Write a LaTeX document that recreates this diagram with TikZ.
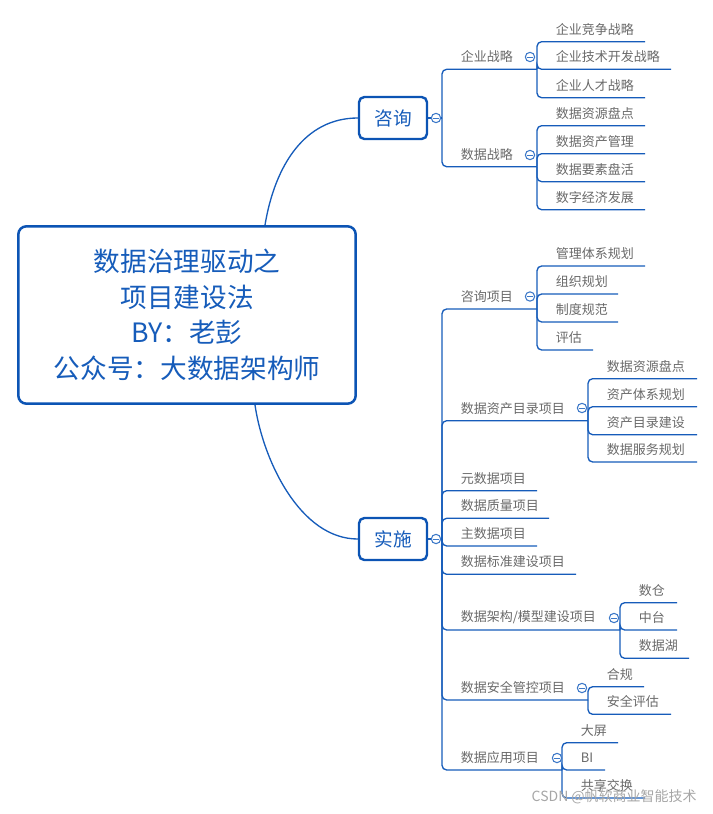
\documentclass[tikz,border=0pt]{standalone}
\usepackage{fontspec}
\newfontfamily\cjk{Noto Sans CJK SC}
\definecolor{lineblue}{RGB}{22,92,186}
\definecolor{boxblue}{RGB}{12,84,180}
\definecolor{textblue}{RGB}{22,92,186}
\definecolor{foldblue}{RGB}{60,120,200}
\definecolor{leafgray}{RGB}{105,105,105}
\newcommand\kid[6]{%
  \node[leaf] (#1) at ({#2+18.5},{#4-12.5}) {#6};
  \draw[conn] (#2,#3) |- (#5,#4);}
\begin{document}
\begin{tikzpicture}[x=0.75pt,y=-0.75pt,
  conn/.style={draw=lineblue,line width=1pt,rounded corners=3.5pt},
  leaf/.style={font=\cjk\fontsize{9.75}{12}\selectfont,text=leafgray,inner sep=0pt,anchor=west},
  topic/.style={draw=boxblue,line width=1.8pt,rounded corners=4pt,fill=white,text=textblue,
    font=\cjk\fontsize{14}{16}\selectfont,minimum width=51pt,minimum height=31.5pt,inner sep=0pt},
  rootbox/.style={draw=boxblue,line width=1.9pt,rounded corners=6pt,fill=white,text=textblue,
    font=\cjk\fontsize{20}{26.6}\selectfont,align=center,minimum width=253pt,minimum height=133pt,inner sep=0pt},
  fold/.style={circle,draw=foldblue,fill=white,line width=0.8pt,minimum size=7pt,inner sep=0pt,
    path picture={\draw[foldblue,line width=0.7pt] ([xshift=-2pt]path picture bounding box.center)--([xshift=2pt]path picture bounding box.center);}}
]
\useasboundingbox (0,0) rectangle (713,814);

% main topics
\node[rootbox] (root) at (187,315) {数据治理驱动之\\项目建设法\\BY：老彭\\公众号：大数据架构师};
\node[topic] (zx) at (393,118) {咨询};
\node[topic] (ss) at (393,539) {实施};
\coordinate (rt) at (265,225);
\coordinate (rb) at (255,405);
\draw[lineblue,line width=1pt] (rt) .. controls (275,165) and (305,118) .. (zx.west);
\draw[lineblue,line width=1pt] (rb) .. controls (263,460) and (300,539) .. (ss.west);

% fold markers of main topics
\node[fold] (fzx) at (436,118) {};
\node[fold] (fss) at (436,539) {};
\draw[conn] (zx.east) -- (fzx.west);
\draw[conn] (ss.east) -- (fss.west);
\draw[conn] (fzx.east) -- (442,118);
\draw[conn] (fss.east) -- (442,539);

% ---- 咨询 ----
\kid{a1}{442}{118}{69.3}{537}{企业战略}
\kid{a11}{537}{69.3}{41.7}{645}{企业竞争战略}
\kid{a12}{537}{69.3}{69.3}{671}{企业技术开发战略}
\kid{a13}{537}{69.3}{97.7}{645}{企业人才战略}
\kid{a2}{442}{118}{166.7}{537}{数据战略}
\kid{a21}{537}{166.7}{125.7}{645}{数据资源盘点}
\kid{a22}{537}{166.7}{153.7}{645}{数据资产管理}
\kid{a23}{537}{166.7}{181.7}{645}{数据要素盘活}
\kid{a24}{537}{166.7}{209.7}{645}{数字经济发展}

% ---- 实施 ----
\kid{b1}{442}{539}{309}{537}{咨询项目}
\kid{b11}{537}{309}{266}{645}{管理体系规划}
\kid{b12}{537}{309}{294}{618}{组织规划}
\kid{b13}{537}{309}{322}{618}{制度规范}
\kid{b14}{537}{309}{350}{593}{评估}
\kid{b2}{442}{539}{420.7}{588}{数据资产目录项目}
\kid{b21}{588}{420.7}{378.7}{697}{数据资源盘点}
\kid{b22}{588}{420.7}{406.7}{697}{资产体系规划}
\kid{b23}{588}{420.7}{434.7}{697}{资产目录建设}
\kid{b24}{588}{420.7}{462}{697}{数据服务规划}
\kid{b3}{442}{539}{490.7}{537}{元数据项目}
\kid{b4}{442}{539}{518.3}{549}{数据质量项目}
\kid{b5}{442}{539}{546}{537}{主数据项目}
\kid{b6}{442}{539}{574.3}{576}{数据标准建设项目}
\kid{b7}{442}{539}{630}{620}{数据架构/模型建设项目}
\kid{b71}{620}{630}{602.7}{677}{数仓}
\kid{b72}{620}{630}{630}{677}{中台}
\kid{b73}{620}{630}{658.3}{689}{数据湖}
\kid{b8}{442}{539}{700}{588}{数据安全管控项目}
\kid{b81}{588}{700}{686.7}{644}{合规}
\kid{b82}{588}{700}{714.3}{671}{安全评估}
\kid{b9}{442}{539}{770}{562}{数据应用项目}
\kid{b91}{562}{770}{742.7}{618}{大屏}
\kid{b92}{562}{770}{770}{605}{BI}
\kid{b93}{562}{770}{798}{645}{共享交换}

% fold markers of sub-topics
\node[fold] (fa1) at (530,57) {};
\node[fold] (fa2) at (530,155) {};
\node[fold] (fb1) at (530,296.5) {};
\node[fold] (fb2) at (582,408) {};
\node[fold] (fb7) at (614,618) {};
\node[fold] (fb8) at (582,688) {};
\node[fold] (fb9) at (557,758) {};

% watermark
\node[anchor=east,inner sep=0pt,text=black!35,font=\cjk\fontsize{10.5}{12}\selectfont] (wm) at (697,797) {CSDN @帆软商业智能技术};
\end{tikzpicture}
\end{document}
